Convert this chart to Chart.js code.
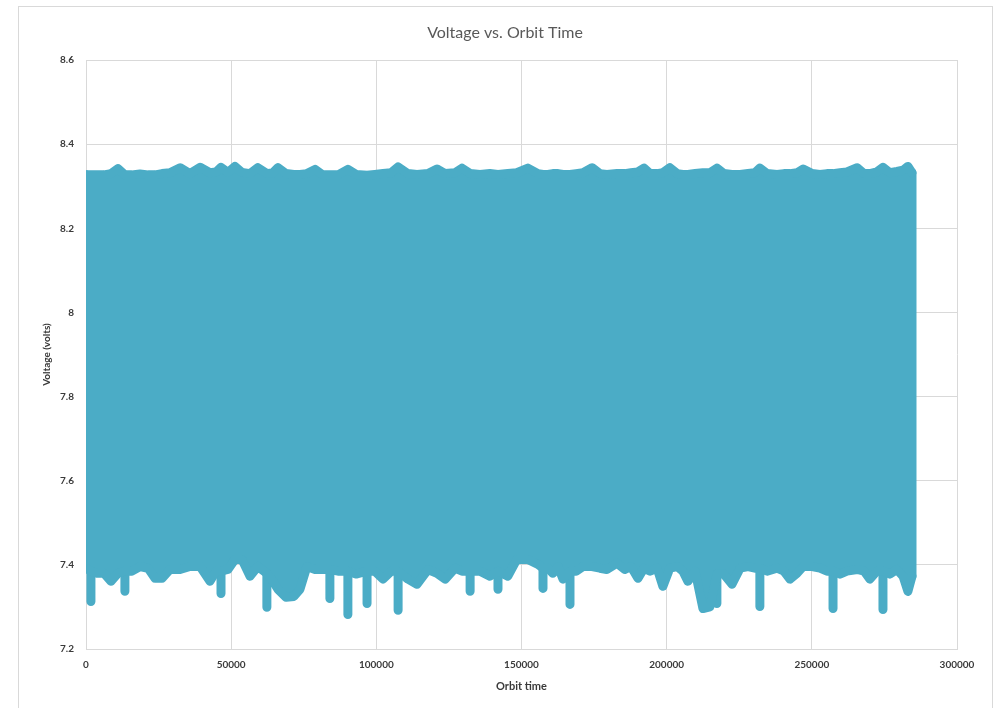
<!DOCTYPE html>
<html>
<head>
<meta charset="utf-8">
<title>Voltage vs. Orbit Time</title>
<script src="https://cdn.jsdelivr.net/npm/chart.js@4/dist/chart.umd.min.js"></script>
<style>
  html, body { margin: 0; padding: 0; background: #fff; }
  #frame {
    position: absolute; left: 18px; top: 6px;
    width: 973px; height: 720px;
    border: 1px solid #d9d9d9; background: #fff;
  }
  #chart { position: absolute; left: 0; top: 0; }
</style>
</head>
<body>
<div id="frame"></div>
<canvas id="chart" width="997" height="708"></canvas>
<script>
// orbit time samples with the upper and lower edge of the voltage trace
const orbitTime = [
  0, 1700, 3800, 6200, 8600, 11000, 13400, 15800, 18600, 21400,
  23800, 26200, 28900, 32400, 35800, 39300, 42700, 44800, 46500, 48900,
  51300, 53700, 56500, 59200, 62300, 64400, 66100, 68900, 71600, 73700,
  76100, 78900, 81300, 84000, 86800, 90200, 93000, 96800, 99500, 102300,
  105100, 107500, 110900, 114000, 117800, 120900, 123700, 127100, 129500, 132300,
  135700, 139100, 141900, 145300, 148400, 152200, 155700, 157400, 159100, 160800,
  162600, 164300, 166700, 168800, 171200, 174300, 177000, 179400, 182900, 185600,
  187700, 190100, 192200, 194300, 196700, 198700, 201100, 203600, 205600, 207300,
  209800, 212500, 214900, 217300, 219700, 222500, 225300, 228000, 230400, 232100,
  234600, 238000, 240400, 242500, 244900, 247000, 250100, 252800, 255200, 257300,
  259700, 262100, 265600, 268000, 270000, 272400, 274500, 276900, 279300, 281400,
  283100, 284500
];
const voltageHigh = [
  8.327, 8.327, 8.327, 8.327, 8.330, 8.342, 8.327, 8.327, 8.329, 8.327,
  8.327, 8.330, 8.332, 8.344, 8.330, 8.345, 8.332, 8.334, 8.345, 8.333,
  8.347, 8.333, 8.330, 8.344, 8.330, 8.332, 8.344, 8.330, 8.328, 8.328,
  8.330, 8.340, 8.328, 8.327, 8.327, 8.340, 8.328, 8.326, 8.328, 8.330,
  8.332, 8.346, 8.330, 8.328, 8.330, 8.341, 8.330, 8.332, 8.343, 8.330,
  8.328, 8.330, 8.328, 8.330, 8.332, 8.343, 8.330, 8.328, 8.328, 8.330,
  8.330, 8.328, 8.328, 8.330, 8.332, 8.344, 8.330, 8.328, 8.330, 8.330,
  8.332, 8.334, 8.343, 8.330, 8.330, 8.332, 8.344, 8.330, 8.328, 8.328,
  8.330, 8.332, 8.332, 8.343, 8.330, 8.328, 8.328, 8.330, 8.332, 8.343,
  8.330, 8.328, 8.330, 8.330, 8.332, 8.341, 8.330, 8.328, 8.330, 8.330,
  8.332, 8.334, 8.344, 8.330, 8.330, 8.334, 8.345, 8.332, 8.335, 8.338,
  8.347, 8.332
];
const voltageLow = [
  7.392, 7.385, 7.380, 7.380, 7.361, 7.380, 7.385, 7.385, 7.396, 7.392,
  7.368, 7.368, 7.389, 7.389, 7.396, 7.396, 7.361, 7.385, 7.385, 7.389,
  7.413, 7.413, 7.373, 7.396, 7.380, 7.361, 7.342, 7.323, 7.325, 7.342,
  7.396, 7.389, 7.389, 7.389, 7.385, 7.385, 7.378, 7.385, 7.385, 7.366,
  7.385, 7.385, 7.366, 7.354, 7.389, 7.380, 7.366, 7.392, 7.385, 7.385,
  7.385, 7.373, 7.385, 7.373, 7.413, 7.413, 7.401, 7.392, 7.392, 7.380,
  7.396, 7.366, 7.385, 7.385, 7.396, 7.396, 7.392, 7.389, 7.404, 7.389,
  7.396, 7.368, 7.392, 7.385, 7.392, 7.349, 7.392, 7.396, 7.385, 7.361,
  7.385, 7.296, 7.300, 7.378, 7.378, 7.354, 7.392, 7.396, 7.392, 7.392,
  7.385, 7.392, 7.385, 7.366, 7.380, 7.396, 7.396, 7.392, 7.385, 7.385,
  7.378, 7.385, 7.389, 7.385, 7.366, 7.385, 7.385, 7.378, 7.389, 7.373,
  7.337, 7.373
];
// short dips below the band, each at one of the sample times above
const dipTime = [
  1700, 13400, 46500, 62300, 84000, 90200, 96800, 107500,
  132300, 141900, 157400, 166700, 217300, 232100, 257300, 274500
];
const dipLow = [
  7.313, 7.337, 7.332, 7.299, 7.320, 7.282, 7.308, 7.292,
  7.337, 7.342, 7.344, 7.306, 7.308, 7.301, 7.296, 7.294
];
const xTicks = [0, 50000, 100000, 150000, 200000, 250000, 300000];
const yTicks = [7.2, 7.4, 7.6, 7.8, 8, 8.2, 8.4, 8.6];

const teal = "#4BACC6";
const gridGray = "#d9d9d9";
const labelColor = "#3a3a3a";

const toPoints = (ys) => orbitTime.map((x, i) => ({ x: x, y: ys[i] }));
const last = orbitTime.length - 1;

// left and right sides of the band, first and last sample
const sides = [
  { x: orbitTime[0], y: voltageHigh[0] },
  { x: orbitTime[0], y: voltageLow[0] },
  { x: orbitTime[0], y: null },
  { x: orbitTime[last], y: voltageHigh[last] },
  { x: orbitTime[last], y: voltageLow[last] }
];

// each dip is a stem from the band's lower edge down to its minimum
const stems = [];
dipTime.forEach((t, k) => {
  const i = orbitTime.indexOf(t);
  stems.push({ x: t, y: voltageLow[i] }, { x: t, y: dipLow[k] }, { x: t, y: null });
});

const traceStyle = {
  borderColor: teal,
  backgroundColor: teal,
  borderWidth: 9,
  borderJoinStyle: "round",
  borderCapStyle: "round",
  pointRadius: 0,
  tension: 0
};

// title drawn by hand so it can sit a bit right of the canvas centre
const titlePlugin = {
  id: "plotTitle",
  afterDraw(chart) {
    const ctx = chart.ctx;
    ctx.save();
    ctx.font = "16px Lato";
    ctx.fillStyle = "#595959";
    ctx.textAlign = "center";
    ctx.textBaseline = "middle";
    ctx.fillText("Voltage vs. Orbit Time", 505, 33);
    ctx.restore();
  }
};

const tickFont = { family: "Lato", size: 10, weight: "bold" };

new Chart(document.getElementById("chart"), {
  type: "line",
  data: {
    datasets: [
      Object.assign({ label: "high", data: toPoints(voltageHigh), fill: false }, traceStyle),
      Object.assign({ label: "low", data: toPoints(voltageLow), fill: "-1" }, traceStyle),
      Object.assign({ label: "sides", data: sides, fill: false, spanGaps: false }, traceStyle),
      Object.assign({ label: "dips", data: stems, fill: false, spanGaps: false }, traceStyle)
    ]
  },
  options: {
    responsive: false,
    devicePixelRatio: 1,
    animation: false,
    layout: { padding: { top: 60, left: 30, right: 40, bottom: 10 } },
    plugins: {
      legend: { display: false },
      tooltip: { enabled: false },
      title: { display: false }
    },
    scales: {
      x: {
        type: "linear",
        min: 0,
        max: 300000,
        afterBuildTicks: (scale) => { scale.ticks = xTicks.map((v) => ({ value: v })); },
        afterFit: (scale) => { scale.height = 49; },
        grid: { color: gridGray, drawTicks: false },
        border: { color: gridGray },
        ticks: {
          padding: 10,
          maxRotation: 0,
          font: tickFont,
          color: labelColor,
          callback: (v) => String(v)
        },
        title: {
          display: true,
          text: "Orbit time",
          font: { family: "Lato", size: 11, weight: "bold" },
          color: labelColor,
          padding: { top: 0, bottom: 5 }
        }
      },
      y: {
        min: 7.2,
        max: 8.6,
        afterBuildTicks: (scale) => { scale.ticks = yTicks.map((v) => ({ value: v })); },
        afterFit: (scale) => { scale.width = 56; },
        grid: { color: gridGray, drawTicks: false },
        border: { color: gridGray },
        ticks: {
          padding: 12,
          font: tickFont,
          color: labelColor,
          callback: (v) => String(Math.round(v * 10) / 10)
        },
        title: {
          display: true,
          text: "Voltage (volts)",
          font: { family: "Lato", size: 10, weight: "bold" },
          color: labelColor,
          padding: { top: 11, bottom: 0 }
        }
      }
    }
  },
  plugins: [titlePlugin]
});
</script>
</body>
</html>
